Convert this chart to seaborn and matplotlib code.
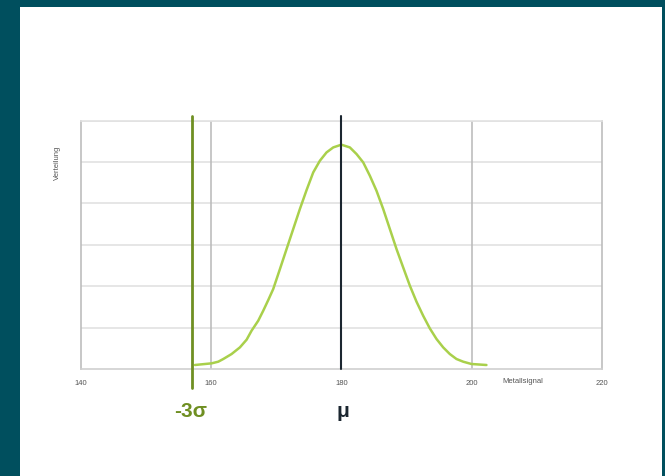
import seaborn as sns
import pandas as pd
import matplotlib.pyplot as plt
from matplotlib.patches import Rectangle

# Werte (Metallsignal vs. Verteilung)
metallsignal = [157.53, 160.09, 161.11, 161.88, 163.15, 164.43, 165.46, 166.22, 167.24, 168.01,
                168.78, 169.54, 170.57, 171.59, 172.61, 173.63, 174.66, 175.68, 176.70, 177.72,
                178.75, 180.0, 181.30, 182.33, 183.35, 184.37, 185.39, 186.42, 187.44, 188.46,
                189.48, 190.51, 191.53, 192.55, 193.57, 194.60, 195.62, 196.64, 197.66, 198.69,
                199.96, 202.26]
verteilung = [0.00097, 0.00137, 0.00177, 0.00242, 0.00362, 0.00523, 0.00709, 0.00926, 0.01167, 0.01409,
              0.01667, 0.01932, 0.02415, 0.02899, 0.03382, 0.03865, 0.04324, 0.04750, 0.05032, 0.05233,
              0.05354, 0.05420, 0.05354, 0.05193, 0.04992, 0.04670, 0.04307, 0.03865, 0.03382, 0.02899,
              0.02456, 0.02013, 0.01626, 0.01288, 0.00982, 0.00725, 0.00523, 0.00362, 0.00242, 0.00177,
              0.00121, 0.00097]
x_ticks = [140, 160, 180, 200, 220]
mu = 180.0
minus_3sigma = 157.0

df = pd.DataFrame({"Metallsignal": metallsignal, "Verteilung": verteilung})

sns.set_style("white")
plt.rcParams['font.family'] = ['Liberation Sans', 'DejaVu Sans']

fig = plt.figure(figsize=(6.65, 4.77), dpi=100)
fig.patch.set_facecolor("#004f5e")
fig.patches.append(Rectangle((20 / 665, 0), 642 / 665, 469 / 477,
                             transform=fig.transFigure, facecolor="white",
                             edgecolor="none", zorder=-1))

ax = fig.add_axes([0.1214, 0.2243, 0.7839, 0.5206])
ax.set_zorder(2)
ax.set_facecolor("white")

# Gitter
for yv in [0.01, 0.02, 0.03, 0.04, 0.05, 0.06]:
    ax.axhline(yv, color="#e2e2e2", lw=1.2, zorder=1)
for xv in [160, 200]:
    ax.axvline(xv, color="#bdbdbd", lw=1.2, zorder=1)

sns.lineplot(data=df, x="Metallsignal", y="Verteilung", ax=ax, color="#a9d04b",
             lw=1.8, zorder=3)

ax.axvline(mu, ymin=0.0, ymax=1.018, color="#1b2630", lw=1.5, clip_on=False, zorder=4)
ax.axvline(minus_3sigma, ymin=-0.075, ymax=1.02, color="#6f8f22", lw=2.0,
           clip_on=False, zorder=4)

ax.set_xlim(140, 220)
ax.set_ylim(0, 0.06)
ax.set_xticks(x_ticks)
ax.set_xticklabels([str(t) for t in x_ticks], fontsize=5.5, color="#555555")
ax.set_yticks([])
ax.tick_params(axis="x", length=0, pad=7)
ax.set_xlabel("")
ax.set_ylabel("")

for side in ["left", "right"]:
    ax.spines[side].set_color("#bdbdbd")
    ax.spines[side].set_linewidth(1.2)
ax.spines["top"].set_color("#e2e2e2")
ax.spines["bottom"].set_color("#d0d0d0")
ax.spines["top"].set_linewidth(1.2)
ax.spines["bottom"].set_linewidth(1.2)

fig.text(523 / 665, 1 - 382 / 477, "Metallsignal", fontsize=5.5, color="#555555",
         ha="center", va="center")
fig.text(57 / 665, 1 - 163 / 477, "Verteilung", fontsize=5.5, color="#555555",
         ha="center", va="center", rotation=90)

fig.text(191 / 665, 1 - 412 / 477, "-3σ", fontsize=15, fontweight="bold",
         color="#6f8f22", ha="center", va="center")
fig.text(343 / 665, 1 - 412 / 477, "μ", fontsize=15, fontweight="bold",
         color="#1b2630", ha="center", va="center")

fig.savefig("out.png", dpi=100, facecolor=fig.get_facecolor())
